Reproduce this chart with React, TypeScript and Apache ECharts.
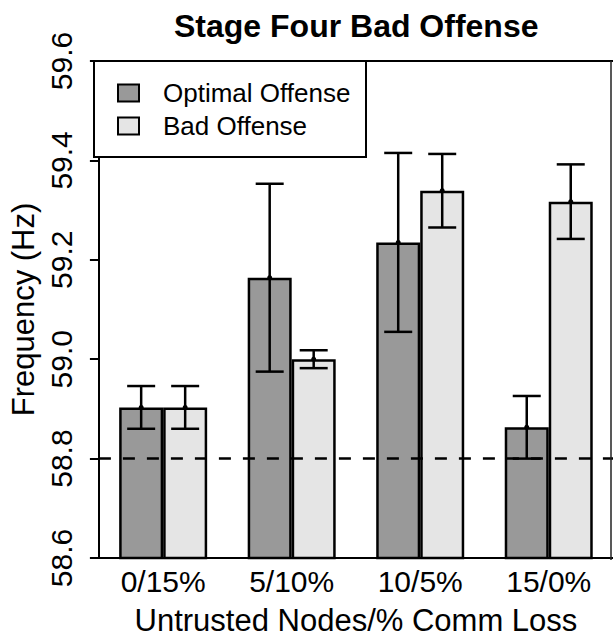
import React, { useEffect, useRef } from "react";
import * as echarts from "echarts";

// Frequency by untrusted-node / comm-loss scenario
const categories = ["0/15%", "5/10%", "10/5%", "15/0%"];
const optimalMean = [58.903, 59.164, 59.235, 58.863];
const optimalErr = [0.043, 0.189, 0.18, 0.063];
const badMean = [58.903, 59.0, 59.339, 59.317];
const badErr = [0.043, 0.018, 0.074, 0.075];
const yTicks = { min: 58.6, max: 59.6, step: 0.2 };
const threshold = 58.8;
const seriesNames = ["Optimal Offense", "Bad Offense"];

const FONT = "'Liberation Sans', Arial, Helvetica, sans-serif";
const BAR_W = 44;
const GRID_LEFT = 94;
const GRID_TOP = 61;
const GRID_W = 524;
const GRID_H = 499;

export default function App() {
  const ref = useRef<HTMLDivElement>(null);

  useEffect(() => {
    if (!ref.current) return;
    const chart = echarts.init(ref.current, undefined, { renderer: "svg" });

    const errData: number[][] = [];
    categories.forEach((_, i) => {
      errData.push([i, optimalMean[i], optimalErr[i], -1]);
      errData.push([i, badMean[i], badErr[i], 1]);
    });

    const barStyle = (color: string) => ({
      color,
      borderColor: "#000",
      borderWidth: 2.5,
    });

    chart.setOption({
      animation: false,
      backgroundColor: "#fff",
      title: {
        text: "Stage Four Bad Offense",
        left: 174,
        top: 10,
        padding: 0,
        textStyle: { fontFamily: FONT, fontSize: 32, fontWeight: "bold", color: "#000" },
      },
      legend: {
        orient: "vertical",
        left: 117,
        top: 80,
        padding: 0,
        itemWidth: 21,
        itemHeight: 17,
        itemGap: 7,
        icon: "rect",
        data: seriesNames,
        textStyle: { fontFamily: FONT, fontSize: 26, color: "#000", padding: [0, 0, 0, 19] },
        z: 20,
      },
      grid: { left: GRID_LEFT, top: GRID_TOP, width: GRID_W, height: GRID_H },
      xAxis: {
        type: "category",
        data: categories,
        name: "Untrusted Nodes/% Comm Loss",
        nameLocation: "middle",
        nameGap: 47,
        nameTextStyle: { fontFamily: FONT, fontSize: 31, color: "#000" },
        axisLine: { show: true, lineStyle: { color: "#000", width: 2 } },
        axisTick: { show: false },
        axisLabel: { interval: 0, margin: 8, fontFamily: FONT, fontSize: 30, color: "#000" },
        splitLine: { show: false },
      },
      yAxis: {
        type: "value",
        min: yTicks.min,
        max: yTicks.max,
        interval: yTicks.step,
        name: "Frequency (Hz)",
        nameLocation: "middle",
        nameGap: 54,
        nameTextStyle: { fontFamily: FONT, fontSize: 31, color: "#000" },
        axisLine: { show: true, lineStyle: { color: "#000", width: 2 } },
        axisTick: { show: true, length: 9, lineStyle: { color: "#000", width: 2 } },
        axisLabel: {
          rotate: 90,
          margin: 22,
          fontFamily: FONT,
          fontSize: 30,
          color: "#000",
          formatter: (v: number) => v.toFixed(1),
        },
        splitLine: { show: false },
      },
      graphic: [
        // legend frame
        {
          type: "rect",
          shape: { x: GRID_LEFT, y: GRID_TOP, width: 272, height: 96 },
          style: { fill: "#fff", stroke: "#000", lineWidth: 2 },
          z: 10,
        },
        // top and right edges of the plot box
        {
          type: "line",
          shape: { x1: GRID_LEFT, y1: GRID_TOP, x2: 613, y2: GRID_TOP },
          style: { stroke: "#000", lineWidth: 2 },
          z: 10,
        },
        {
          type: "line",
          shape: { x1: 611, y1: GRID_TOP, x2: 611, y2: GRID_TOP + GRID_H },
          style: { stroke: "#222", lineWidth: 1.5 },
          z: 10,
        },
      ],
      series: [
        {
          name: seriesNames[0],
          type: "bar",
          data: optimalMean,
          barWidth: BAR_W,
          barGap: "0%",
          itemStyle: barStyle("#999999"),
        },
        {
          name: seriesNames[1],
          type: "bar",
          data: badMean,
          barWidth: BAR_W,
          barGap: "0%",
          itemStyle: barStyle("#e5e5e5"),
        },
        {
          type: "line",
          data: [],
          z: 5,
          markLine: {
            silent: true,
            symbol: ["none", "none"],
            label: { show: false },
            lineStyle: { color: "#000", width: 2.5, type: [12, 12] },
            data: [{ yAxis: threshold }],
          },
        },
        {
          type: "custom",
          z: 6,
          encode: { x: 0, y: 1 },
          data: errData,
          renderItem: (_params: any, api: any) => {
            const idx = api.value(0);
            const mean = api.value(1);
            const err = api.value(2);
            const side = api.value(3);
            const c = api.coord([idx, mean]);
            const x = c[0] + (side * BAR_W) / 2;
            const yTop = api.coord([idx, mean + err])[1];
            const yBot = api.coord([idx, mean - err])[1];
            const cap = 14;
            const stroke = { stroke: "#000", lineWidth: 2.5 };
            return {
              type: "group",
              children: [
                { type: "line", shape: { x1: x, y1: yTop, x2: x, y2: yBot }, style: stroke },
                { type: "line", shape: { x1: x - cap, y1: yTop, x2: x + cap, y2: yTop }, style: stroke },
                { type: "line", shape: { x1: x - cap, y1: yBot, x2: x + cap, y2: yBot }, style: stroke },
                { type: "circle", shape: { cx: x, cy: c[1], r: 2.5 }, style: { fill: "#000" } },
              ],
            };
          },
        },
      ],
    });

    return () => chart.dispose();
  }, []);

  return (
    <div
      ref={ref}
      style={{ position: "fixed", left: 0, top: 0, width: 613, height: 641, background: "#fff" }}
    />
  );
}
